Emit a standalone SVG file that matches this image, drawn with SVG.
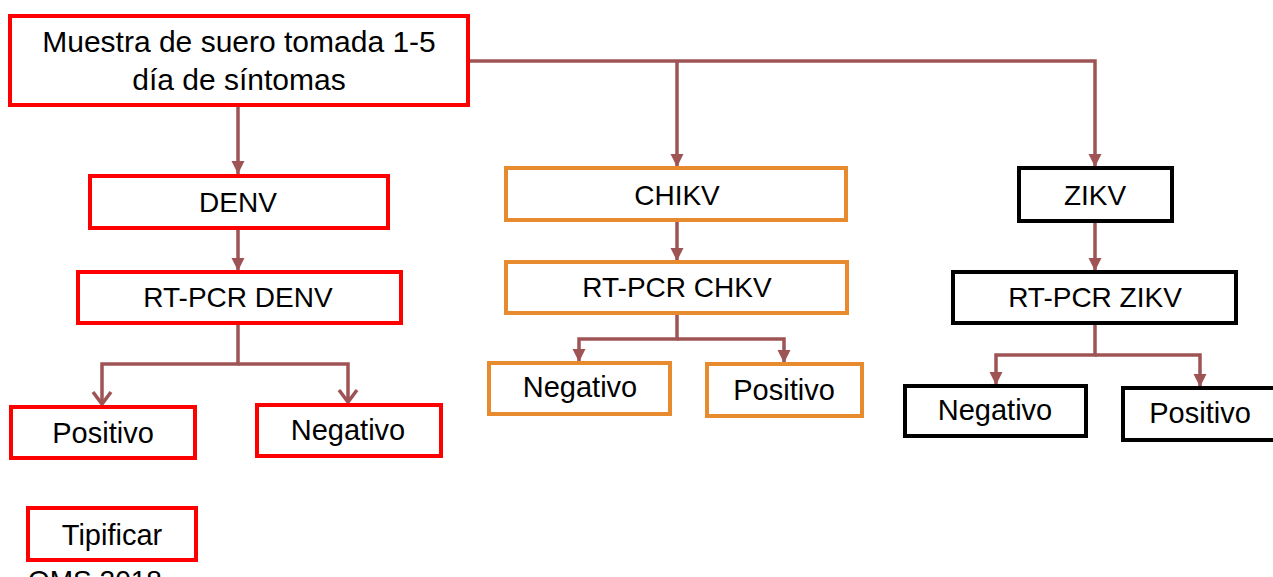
<svg xmlns="http://www.w3.org/2000/svg" width="1273" height="577" viewBox="0 0 1273 577">
<style>
.box{fill:#fff;stroke-width:4}
.red{stroke:#FF0000}
.org{stroke:#E88A2E}
.blk{stroke:#000}
.t{font-family:"Liberation Sans",Arial,sans-serif;font-size:28px;fill:#000;text-anchor:middle}
.t.m{font-size:29px}
.t.h{font-size:30px}
.c{fill:none;stroke:#9E5454;stroke-width:3.5}
</style>
<defs>
<marker id="tri" markerUnits="userSpaceOnUse" markerWidth="14" markerHeight="14" refX="13" refY="7" orient="auto">
<path d="M0,0.5 L13,7 L0,13.5 z" fill="#9E5454"/>
</marker>
<marker id="chev" markerUnits="userSpaceOnUse" markerWidth="20" markerHeight="22" refX="14" refY="11" orient="auto">
<path d="M2,2 L14,11 L2,20" fill="none" stroke="#9E5454" stroke-width="3.5"/>
</marker>
</defs>
<g id="connectors">
<path class="c" d="M238,107 V174" marker-end="url(#tri)"/>
<path class="c" d="M238,229 V271" marker-end="url(#tri)"/>
<path class="c" d="M238,324 V364 H102 V404" marker-end="url(#chev)"/>
<path class="c" d="M238,364 H348 V402" marker-end="url(#chev)"/>
<path class="c" d="M470,61 H1095 V167" marker-end="url(#tri)"/>
<path class="c" d="M677,61 V167" marker-end="url(#tri)"/>
<path class="c" d="M677,221 V261" marker-end="url(#tri)"/>
<path class="c" d="M677,314 V339 H579 V362" marker-end="url(#tri)"/>
<path class="c" d="M677,339 H784 V363" marker-end="url(#tri)"/>
<path class="c" d="M1095,222 V271" marker-end="url(#tri)"/>
<path class="c" d="M1095,324 V355 H996 V385" marker-end="url(#tri)"/>
<path class="c" d="M1095,355 H1200 V387" marker-end="url(#tri)"/>
</g>
<g id="muestra">
<rect class="box red" x="10" y="16" width="458" height="89"/>
<text class="t h" x="239" y="52">Muestra de suero tomada 1-5</text>
<text class="t h" x="239" y="90">día de síntomas</text>
</g>
<g id="denv">
<rect class="box red" x="90" y="176" width="298" height="52"/>
<text class="t" x="238" y="212">DENV</text>
</g>
<g id="rtpcr-denv">
<rect class="box red" x="78" y="272" width="323" height="51"/>
<text class="t" x="238" y="307">RT-PCR DENV</text>
</g>
<g id="denv-positivo">
<rect class="box red" x="11" y="407" width="184" height="51"/>
<text class="t m" x="103" y="443">Positivo</text>
</g>
<g id="denv-negativo">
<rect class="box red" x="257" y="405" width="184" height="51"/>
<text class="t m" x="348" y="440">Negativo</text>
</g>
<g id="tipificar">
<rect class="box red" x="28" y="508" width="168" height="52"/>
<text class="t m" x="112" y="545">Tipificar</text>
</g>
<text class="t" x="28" y="590" style="text-anchor:start">OMS 2018</text>
<g id="chikv">
<rect class="box org" x="506" y="168" width="340" height="52"/>
<text class="t" x="677" y="205">CHIKV</text>
</g>
<g id="rtpcr-chkv">
<rect class="box org" x="506" y="262" width="341" height="51"/>
<text class="t" x="677" y="297">RT-PCR CHKV</text>
</g>
<g id="chkv-negativo">
<rect class="box org" x="489" y="363" width="181" height="51"/>
<text class="t m" x="580" y="397">Negativo</text>
</g>
<g id="chkv-positivo">
<rect class="box org" x="707" y="364" width="155" height="52"/>
<text class="t m" x="784" y="400">Positivo</text>
</g>
<g id="zikv">
<rect class="box blk" x="1019" y="168" width="153" height="53"/>
<text class="t" x="1095" y="205">ZIKV</text>
</g>
<g id="rtpcr-zikv">
<rect class="box blk" x="953" y="272" width="283" height="51"/>
<text class="t" x="1095" y="307">RT-PCR ZIKV</text>
</g>
<g id="zikv-negativo">
<rect class="box blk" x="905" y="386" width="181" height="50"/>
<text class="t m" x="995" y="420">Negativo</text>
</g>
<g id="zikv-positivo">
<rect class="box blk" x="1123" y="388" width="160" height="52"/>
<text class="t m" x="1200" y="423">Positivo</text>
</g>
</svg>
